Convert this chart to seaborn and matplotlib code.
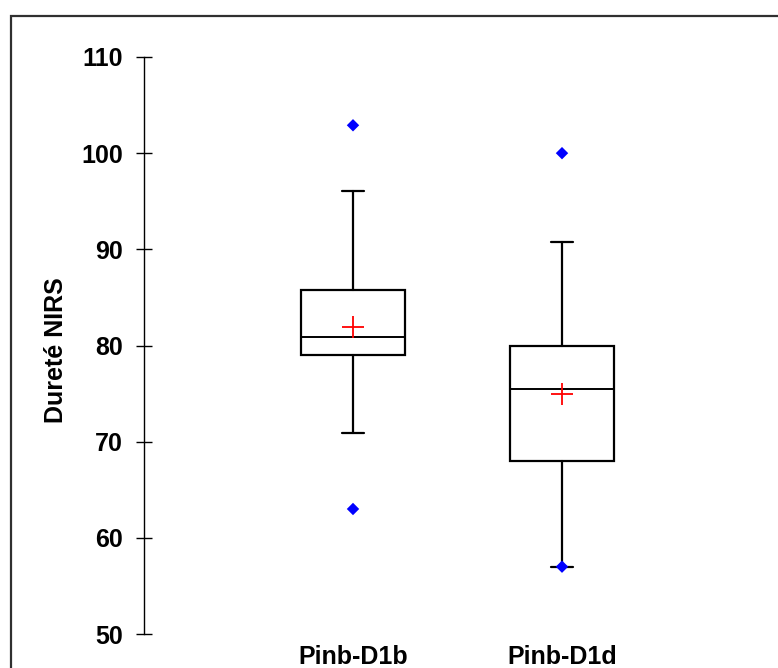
import matplotlib
matplotlib.use("Agg")
import matplotlib.pyplot as plt
import seaborn as sns
import pandas as pd
from matplotlib.patches import Rectangle

# Summary statistics per genotype
categories = ["Pinb-D1b", "Pinb-D1d"]
q1 = [79.0, 68.0]
median = [80.9, 75.5]
q3 = [85.8, 80.0]
whisker_low = [70.9, 57.0]
whisker_high = [96.1, 90.8]
mean = [81.9, 75.0]
minimum = [63.0, 57.0]
maximum = [102.9, 100.0]
y_ticks = [50, 60, 70, 80, 90, 100, 110]

sns.set_style("white")
plt.rcParams["font.family"] = ["Liberation Sans", "DejaVu Sans"]
plt.rcParams["font.weight"] = "bold"
plt.rcParams["text.color"] = "black"
plt.rcParams["axes.labelcolor"] = "black"
plt.rcParams["xtick.color"] = "black"
plt.rcParams["ytick.color"] = "black"

W, H = 778, 668
fig = plt.figure(figsize=(W / 100, H / 100), dpi=100)
ax = fig.add_axes([144 / W, 1 - 634 / H, 627 / W, 577 / H])

positions = list(range(1, len(categories) + 1))
stats = [
    dict(label=c, q1=a, med=m, q3=b, whislo=lo, whishi=hi, mean=mu)
    for c, a, m, b, lo, hi, mu in zip(categories, q1, median, q3,
                                      whisker_low, whisker_high, mean)
]
ax.bxp(stats, positions=positions, widths=0.5, capwidths=0.11,
       showfliers=False, showmeans=False, patch_artist=True,
       boxprops=dict(facecolor="white", edgecolor="black", linewidth=1.6),
       medianprops=dict(color="black", linewidth=1.4),
       whiskerprops=dict(color="black", linewidth=1.6),
       capprops=dict(color="black", linewidth=1.6))

# Minimum / maximum as blue diamonds
extremes = pd.DataFrame({
    "pos": positions + positions,
    "value": minimum + maximum,
})
sns.scatterplot(data=extremes, x="pos", y="value", marker="D", color="blue",
                s=40, edgecolor="none", ax=ax, zorder=5, legend=False)

# Means as red crosses
means = pd.DataFrame({"pos": positions, "value": mean})
sns.scatterplot(data=means, x="pos", y="value", marker="+", color="red",
                s=250, linewidth=1.3, ax=ax, zorder=6, legend=False)

ax.set_xlim(0, 3)
ax.set_ylim(50, 110)
ax.set_yticks(y_ticks)
ax.set_xticks(positions)
ax.set_xticklabels(categories)
ax.set_xlabel("")
ax.set_ylabel("Dureté NIRS", fontsize=18, fontweight="bold", color="black")
ax.yaxis.set_label_coords(-(144 - 68) / 627, (634 - 350) / 577)

ax.tick_params(axis="y", direction="inout", length=11.5, width=1.0,
               labelsize=18, pad=9.4, left=True, color="black",
               labelcolor="black")
ax.tick_params(axis="x", length=0, labelsize=18, pad=8, labelcolor="black")
for lab in ax.get_xticklabels() + ax.get_yticklabels():
    lab.set_fontweight("bold")

for side in ("top", "right", "bottom"):
    ax.spines[side].set_visible(False)
ax.spines["left"].set_linewidth(1.0)
ax.spines["left"].set_color("black")

# Frame around the figure
fig.patches.append(Rectangle((10.7 / W, -0.05), 1.1, (1 - 15.7 / H) + 0.05,
                             transform=fig.transFigure, fill=False,
                             linewidth=1.6, edgecolor="#303030"))

fig.savefig("out.png", dpi=100)
